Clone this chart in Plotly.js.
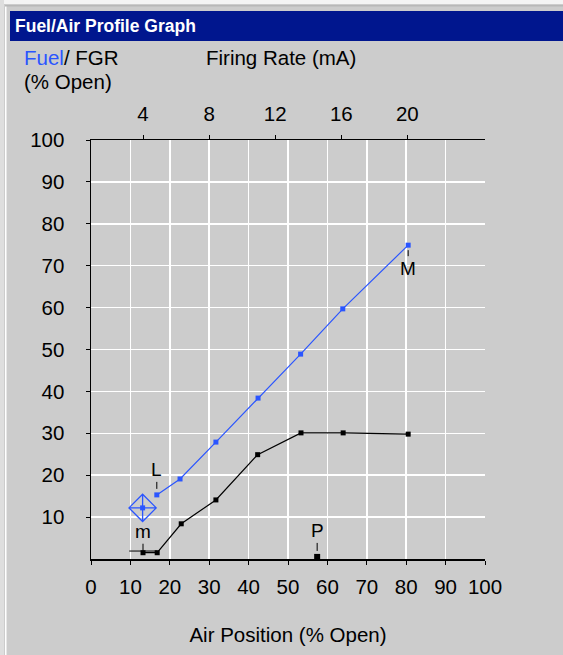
<!DOCTYPE html>
<html>
<head>
<meta charset="utf-8">
<script src="https://cdn.plot.ly/plotly-3.0.1.min.js"></script>
<style>
  html, body { margin: 0; padding: 0; background: #cccccc; }
  #chart { width: 563px; height: 655px; }
</style>
</head>
<body>
<div id="chart"></div>
<script>
// ---- Data ----
const fuelAir   = [16.7, 22.6, 31.7, 42.4, 53.2, 63.9, 80.5];
const fuelPos   = [15.3, 19.1, 27.9, 38.4, 48.9, 59.7, 74.9];
const fgrAir    = [13.2, 16.8, 22.9, 31.7, 42.3, 53.3, 64.0, 80.5];
const fgrPos    = [1.5, 1.5, 8.4, 14.1, 24.9, 30.1, 30.1, 29.8];
const fuelCursorAir = [13.1];
const fuelCursorPos = [12.2];
const fgrCursorAir  = [9.7, 16.8];
const fgrCursorPos  = [1.9, 1.9];
const purgeAir = [57.4];
const purgePos = [0.5];
const airTicks = [0, 10, 20, 30, 40, 50, 60, 70, 80, 90, 100];
const posTicks = [10, 20, 30, 40, 50, 60, 70, 80, 90, 100];
const firingRateTicks = [4, 8, 12, 16, 20];
// firing rate (mA) to air position calibration: 4 mA and 20 mA
const airAt4mA = 13.2;
const airAt20mA = 80.3;

// ---- Styles ----
const BLUE = '#2a55ff';
const FONT = 'Liberation Sans, Arial, sans-serif';
const FS = 20.5;
const mAslope = (airAt20mA - airAt4mA) / 16;
const mAatAir = a => 4 + (a - airAt4mA) / mAslope;

// plot-area pixel frame helpers for paper-positioned decorations
const L = 91, R = 485, T = 140, B = 559;
const px = x => (x - L) / (R - L);
const py = y => (B - y) / (B - T);

const traces = [
  { x: fgrCursorAir, y: fgrCursorPos, mode: 'lines', line: {color: '#000', width: 1},
    hoverinfo: 'skip', showlegend: false },
  { x: fgrAir, y: fgrPos, mode: 'lines+markers', name: 'FGR',
    line: {color: '#000', width: 1.2}, marker: {symbol: 'square', size: 5, color: '#000'} },
  { x: fuelAir, y: fuelPos, mode: 'lines+markers', name: 'Fuel',
    line: {color: BLUE, width: 1.2}, marker: {symbol: 'square', size: 5, color: BLUE} },
  { x: fuelCursorAir, y: fuelCursorPos, mode: 'markers', showlegend: false,
    marker: {symbol: 'diamond-cross-open', size: 21, color: BLUE, line: {color: BLUE, width: 1.3}} },
  { x: fuelCursorAir, y: fuelCursorPos, mode: 'markers', showlegend: false,
    marker: {symbol: 'square', size: 5, color: BLUE} },
  { x: purgeAir, y: purgePos, mode: 'markers', showlegend: false,
    marker: {symbol: 'square', size: 6, color: '#000'} },
  { x: firingRateTicks, y: firingRateTicks.map(() => null), xaxis: 'x2', mode: 'markers',
    hoverinfo: 'skip', showlegend: false }
];

function pointLabel(text, x, y, ay, standoff) {
  return { x: x, y: y, xref: 'x', yref: 'y', text: text, showarrow: true,
    arrowhead: 0, arrowwidth: 1, arrowcolor: '#000', ax: 0, ay: ay, standoff: standoff,
    font: {family: FONT, size: 19, color: '#000'} };
}

const layout = {
  width: 563, height: 655,
  margin: {l: L, r: 563 - R, t: T, b: 655 - B, pad: 0},
  paper_bgcolor: '#cccccc',
  plot_bgcolor: '#cccccc',
  showlegend: false,
  font: {family: FONT, size: FS, color: '#000'},
  xaxis: {
    range: [0, 100], tickvals: airTicks, ticktext: airTicks.map(String),
    showgrid: true, gridcolor: '#ffffff', gridwidth: 1.5,
    zeroline: false, showline: true, linecolor: '#000', linewidth: 1.5,
    ticks: 'outside', ticklen: 4, tickcolor: '#000', tickwidth: 1,
    ticklabelstandoff: 5, fixedrange: true,
    title: {text: 'Air Position (% Open)', font: {family: FONT, size: FS}, standoff: 30}
  },
  xaxis2: {
    overlaying: 'x', side: 'top', anchor: 'y',
    range: [mAatAir(0), mAatAir(100)], tickvals: firingRateTicks,
    showgrid: false, zeroline: false, showline: true, linecolor: '#000', linewidth: 1.5,
    ticks: 'outside', ticklen: 4, tickcolor: '#000', tickwidth: 1,
    ticklabelstandoff: 5, fixedrange: true
  },
  yaxis: {
    range: [0, 100], tickvals: posTicks,
    showgrid: true, gridcolor: '#ffffff', gridwidth: 1.5,
    zeroline: false, showline: true, linecolor: '#000', linewidth: 1.5,
    ticks: 'outside', ticklen: 4, tickcolor: '#000', tickwidth: 1,
    ticklabelstandoff: 17, fixedrange: true
  },
  shapes: [
    // window frame decorations
    {type: 'rect', xref: 'paper', yref: 'paper', x0: px(0), x1: px(563), y0: py(0), y1: py(4),
     fillcolor: '#f4f4f4', line: {width: 0}, layer: 'below'},
    {type: 'rect', xref: 'paper', yref: 'paper', x0: px(0), x1: px(4), y0: py(0), y1: py(655),
     fillcolor: '#dedede', line: {width: 0}, layer: 'below'},
    {type: 'rect', xref: 'paper', yref: 'paper', x0: px(5), x1: px(6.5), y0: py(5), y1: py(655),
     fillcolor: '#ffffff', line: {width: 0}, layer: 'below'},
    {type: 'rect', xref: 'paper', yref: 'paper', x0: px(5), x1: px(563), y0: py(5), y1: py(6.5),
     fillcolor: '#b8b8b8', line: {width: 0}, layer: 'below'},
    // title bar
    {type: 'rect', xref: 'paper', yref: 'paper', x0: px(10), x1: px(563), y0: py(11), y1: py(41),
     fillcolor: '#00168e', line: {width: 0}, layer: 'below'}
  ],
  annotations: [
    {xref: 'paper', yref: 'paper', x: px(13), y: py(26), xanchor: 'left', yanchor: 'middle',
     showarrow: false, text: '<b>Fuel/Air Profile Graph</b>',
     font: {family: FONT, size: 17.5, color: '#ffffff'}},
    {xref: 'paper', yref: 'paper', x: px(22), y: py(57), xanchor: 'left', yanchor: 'middle',
     showarrow: false, text: '<span style="color:' + BLUE + '">Fuel</span>/ FGR',
     font: {family: FONT, size: FS, color: '#000'}},
    {xref: 'paper', yref: 'paper', x: px(22), y: py(81), xanchor: 'left', yanchor: 'middle',
     showarrow: false, text: '(% Open)',
     font: {family: FONT, size: FS, color: '#000'}},
    {xref: 'paper', yref: 'paper', x: px(204), y: py(57), xanchor: 'left', yanchor: 'middle',
     showarrow: false, text: 'Firing Rate (mA)',
     font: {family: FONT, size: FS, color: '#000'}},
    pointLabel('L', fuelAir[0], fuelPos[0], -25, 6),
    pointLabel('M', fuelAir[fuelAir.length - 1], fuelPos[fuelPos.length - 1], 23, 5),
    pointLabel('m', fgrAir[0], fgrPos[0], -21, 0),
    pointLabel('P', purgeAir[0], purgePos[0], -26, 6)
  ]
};

Plotly.newPlot('chart', traces, layout, {displayModeBar: false, staticPlot: true});
</script>
</body>
</html>
